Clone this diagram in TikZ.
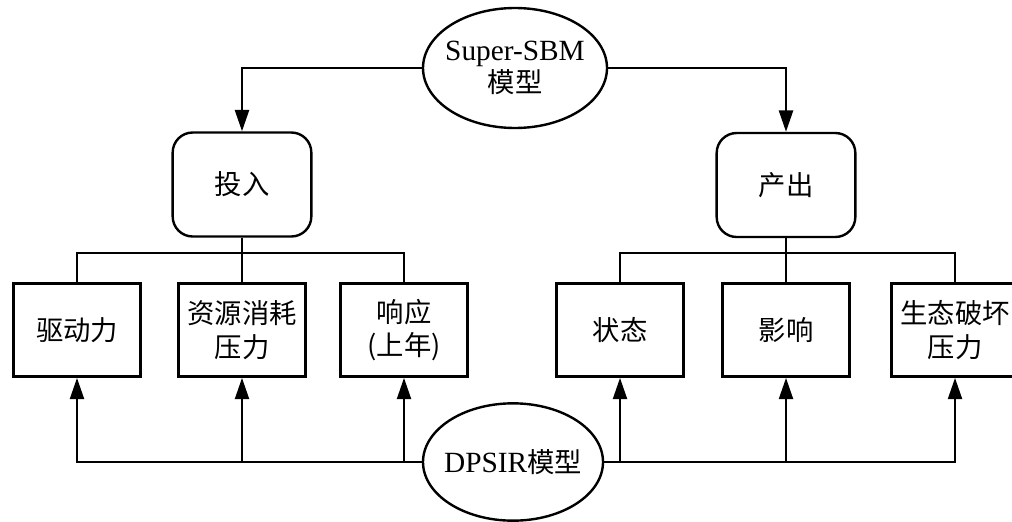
\documentclass[tikz,border=0pt]{standalone}
\usepackage{fontspec}
\setmainfont{Liberation Serif}
\newfontfamily\cjk{Noto Sans CJK SC}
\usetikzlibrary{arrows.meta,shapes.geometric}
\tikzset{
  line/.style={line width=1.8pt, draw=black},
  arr/.style={line, -{Triangle[length=16pt,width=10.5pt]}},
  ell/.style={ellipse, line, fill=white, minimum width=138pt, minimum height=90pt, inner sep=-12pt, align=center, font=\fontsize{22}{25}\selectfont},
  rbox/.style={rectangle, rounded corners=15pt, line, minimum width=104pt, minimum height=78pt, font=\fontsize{20.5}{24}\selectfont\cjk},
  sbox/.style={rectangle, line, minimum width=95pt, minimum height=70pt, inner sep=0pt, align=center, font=\fontsize{20.5}{25}\selectfont\cjk},
}
\begin{document}
\begin{tikzpicture}[x=0.75pt,y=-0.75pt]
\useasboundingbox (0,0) rectangle (1012,521);
\clip (0,0) rectangle (1012,521);
\fill[white] (0,0) rectangle (1012,521);
% top ellipse
\node[ell] (sbm) at (515,68) {Super-SBM\\[-1pt]{\cjk\fontsize{20.5}{24}\selectfont 模型}};
% input/output
\node[rbox] (tr) at (242,184.5) {投入};
\node[rbox] (cc) at (786,185) {产出};
% boxes
\node[sbox] (b1) at (77,330) {驱动力};
\node[sbox] (b2) at (242,330) {资源消耗\\压力};
\node[sbox] (b3) at (404,330) {响应\\(上年)};
\node[sbox] (b4) at (620,330) {状态};
\node[sbox] (b5) at (786,330) {影响};
\node[sbox] (b6) at (955,330) {生态破坏\\压力};
% bottom ellipse
\node[ell, minimum width=135pt, minimum height=88pt] (dp) at (513,462) {DPSIR{\cjk\fontsize{20.5}{24}\selectfont 模型}};
% buses
\coordinate (busL) at (242,253);
\coordinate (busR) at (786,253);
% top arrows
\draw[arr] (sbm.west) -| (tr.north);
\draw[arr] (sbm.east) -| (cc.north);
% tree lines
\draw[line] (tr.south) -- (b2.north);
\draw[line] (b1.north) |- (busL) -| (b3.north);
\draw[line] (cc.south) -- (b5.north);
\draw[line] (b4.north) |- (busR) -| (b6.north);
% bottom arrows
\draw[arr] (dp.west) -| (b1.south);
\draw[arr] (b2.south |- dp.west) -- (b2.south);
\draw[arr] (b3.south |- dp.west) -- (b3.south);
\draw[arr] (dp.east) -| (b6.south);
\draw[arr] (b4.south |- dp.east) -- (b4.south);
\draw[arr] (b5.south |- dp.east) -- (b5.south);
\end{tikzpicture}
\end{document}
